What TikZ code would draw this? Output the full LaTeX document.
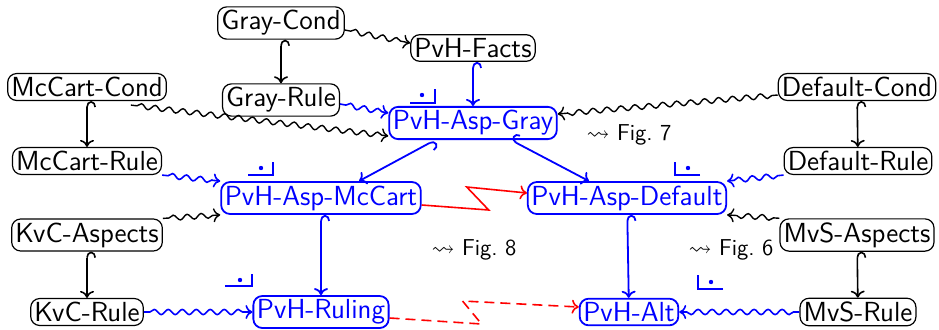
\documentclass[tikz,border=0pt]{standalone}
\usepackage{amssymb}
\usetikzlibrary{arrows.meta,decorations.pathmorphing}

\tikzset{
  obj/.style={draw, rounded corners=4.5pt, inner sep=1.8pt, line width=0.6pt,
              font=\sffamily\fontsize{13.8}{16}\selectfont},
  pobj/.style={obj, blue, line width=0.9pt},
  tip/.style={-{To[length=3.5pt,width=7pt]}},
  inc/.style={{Hooks[right,length=3pt,width=9pt]}-{To[length=3.5pt,width=7pt]}, line width=0.8pt},
  sq/.style={tip, line width=0.7pt, decorate,
             decoration={snake, amplitude=1.3pt, segment length=7pt,
                         pre length=3pt, post length=3pt}},
  ref/.style={font=\sffamily\fontsize{11.5}{13}\selectfont},
  pb/.style={blue, line width=0.6pt}
}

\begin{document}
\begin{tikzpicture}[x=0.5pt, y=0.5pt]
  \useasboundingbox (0,0) rectangle (939,329);

  % conditions and rules
  \node (GrayCond)    [obj] at (281,306) {Gray-Cond};
  \node (GrayRule)    [obj] at (281,229) {Gray-Rule};
  \node (Facts)       [obj] at (473,281) {PvH-Facts};
  \node (McCartCond)  [obj] at (87,242)  {McCart-Cond};
  \node (McCartRule)  [obj] at (87,168)  {McCart-Rule};
  \node (KvCAspects)  [obj] at (87,94)   {KvC-Aspects};
  \node (KvCRule)     [obj] at (87,17)   {KvC-Rule};
  \node (DefaultCond) [obj] at (857,242) {Default-Cond};
  \node (DefaultRule) [obj] at (858,168) {Default-Rule};
  \node (MvSAspects)  [obj] at (857,94)  {MvS-Aspects};
  \node (MvSRule)     [obj] at (858,17)  {MvS-Rule};

  % aspects
  \node (AspGray)    [pobj] at (473,206) {PvH-Asp-Gray};
  \node (AspMcCart)  [pobj] at (321,131) {PvH-Asp-McCart};
  \node (AspDefault) [pobj] at (627,131) {PvH-Asp-Default};
  \node (Ruling)     [pobj] at (321,17)  {PvH-Ruling};
  \node (Alt)        [pobj] at (629,17)  {PvH-Alt};

  \node (fig7) [ref] at (629,194) {$\leadsto$ Fig.~7};
  \node (fig8) [ref] at (474,79)  {$\leadsto$ Fig.~8};
  \node (fig6) [ref] at (731,79)  {$\leadsto$ Fig.~6};

  % black
  \draw[inc] (GrayCond) -- (GrayRule);
  \draw[inc] (McCartCond) -- (McCartRule);
  \draw[inc] (DefaultCond) -- (DefaultRule);
  \draw[inc] (KvCAspects) -- (KvCRule);
  \draw[inc] (MvSAspects) -- (MvSRule);
  \draw[sq] ([yshift=-3.5pt]GrayCond.east) -- ([yshift=2.5pt]Facts.west);
  \draw[sq] ([xshift=-18pt,yshift=-2pt]McCartCond.south east) -- ([yshift=-6.5pt]AspGray.west);
  \draw[sq] ([yshift=-4pt]DefaultCond.west) -- ([yshift=4.5pt]AspGray.east);
  \draw[sq] (KvCAspects.north east) -- (AspMcCart.south west);
  \draw[sq] (MvSAspects.north west) -- (AspDefault.south east);

  % blue
  \draw[inc, blue, line width=0.9pt] (Facts) -- (AspGray);
  \draw[inc, blue, line width=0.9pt] ([xshift=-19pt]AspGray.south) -- ([xshift=19pt]AspMcCart.north);
  \draw[inc, blue, line width=0.9pt] ([xshift=19pt]AspGray.south) -- ([xshift=-19pt]AspDefault.north);
  \draw[inc, blue, line width=0.9pt] (AspMcCart) -- (Ruling);
  \draw[inc, blue, line width=0.9pt] (AspDefault) -- (Alt);
  \draw[sq, blue, line width=0.8pt] ([yshift=-2pt]GrayRule.east) -- ([yshift=5pt]AspGray.west);
  \draw[sq, blue, line width=0.8pt] (McCartRule.south east) -- (AspMcCart.north west);
  \draw[sq, blue, line width=0.8pt] (DefaultRule.south west) -- (AspDefault.north east);
  \draw[sq, blue, line width=0.8pt] (KvCRule) -- (Ruling);
  \draw[sq, blue, line width=0.8pt] (MvSRule) -- (Alt);

  % red
  \draw[tip, red, line width=0.8pt] ([yshift=-3.5pt]AspMcCart.east) -- ++(67,-5) -- ++(-22,23) -- ([yshift=2.5pt]AspDefault.west);
  \draw[tip, red, line width=0.8pt, dash pattern=on 5pt off 3pt] ([yshift=-3pt]Ruling.east) -- ++(92,-6) -- ++(-19,23) -- ([yshift=2.5pt]Alt.west);

  % pullback corners
  \draw[pb] (410,226) -- (435,226) -- (435,240);
  \fill[blue] (422,234) circle (1.1pt);
  \draw[pb] (248,154) -- (273,154) -- (273,167);
  \fill[blue] (261,161) circle (1.1pt);
  \draw[pb] (700,154) -- (675,154) -- (675,167);
  \fill[blue] (688,161) circle (1.1pt);
  \draw[pb] (225,43) -- (252,43) -- (252,55);
  \fill[blue] (240,49) circle (1.1pt);
  \draw[pb] (723,40) -- (698,40) -- (698,54);
  \fill[blue] (711,47) circle (1.1pt);
\end{tikzpicture}
\end{document}
